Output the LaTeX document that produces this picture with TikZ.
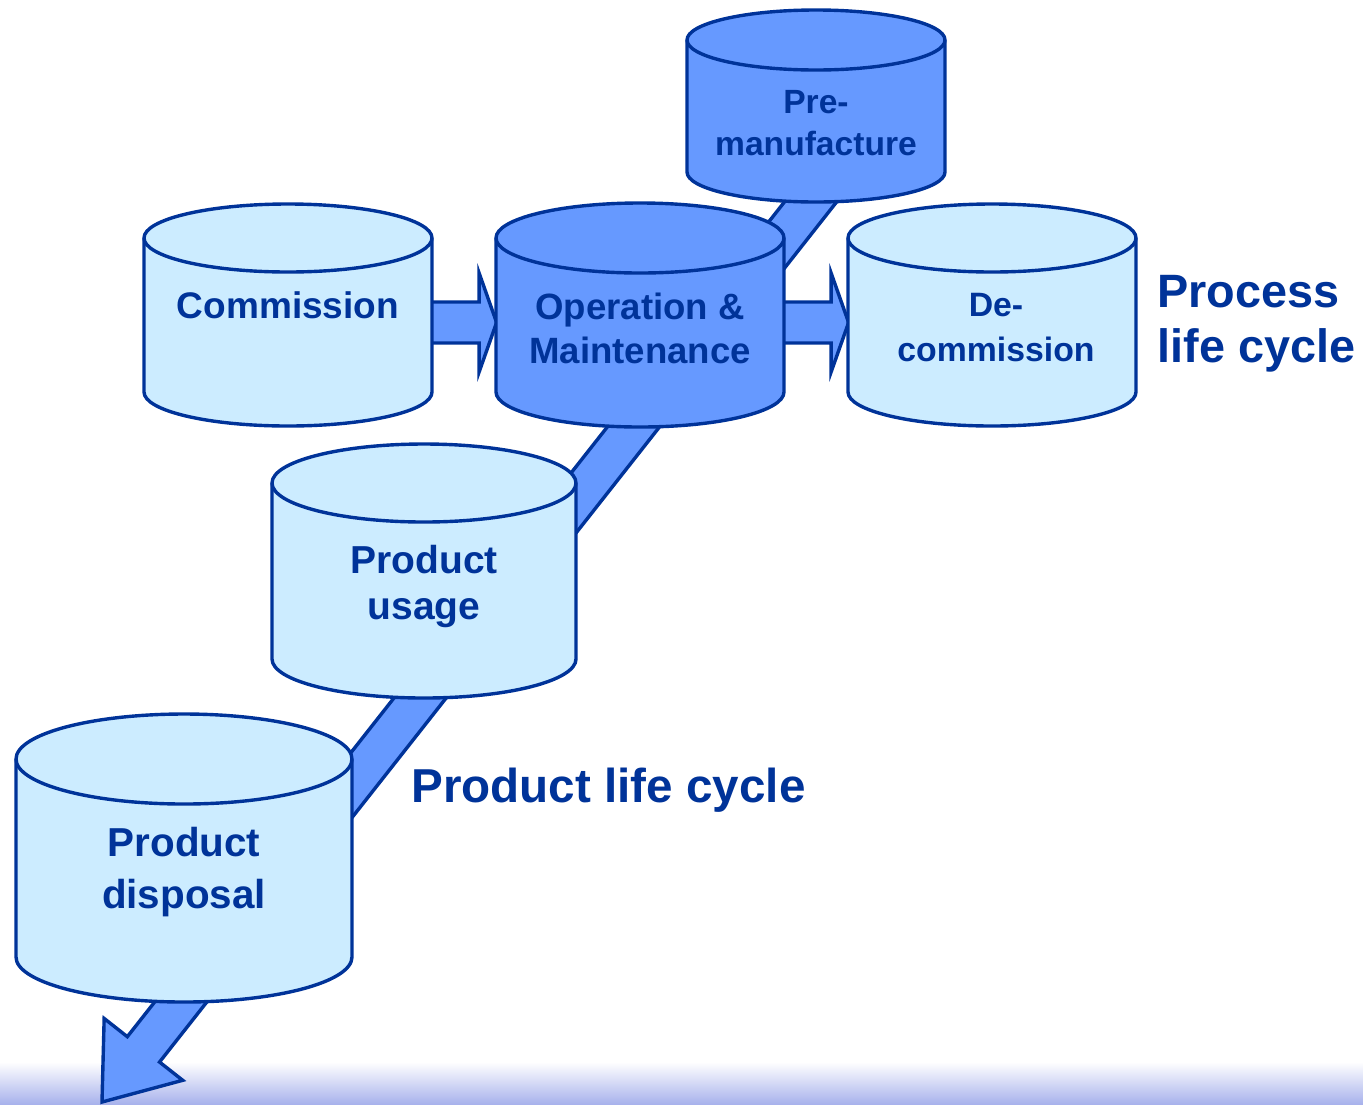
\documentclass[tikz,border=0pt]{standalone}
\usepackage{fontspec}
\setmainfont{Liberation Sans}
\usetikzlibrary{calc, positioning, backgrounds}

\definecolor{lineBlue}{HTML}{003399}
\definecolor{lightFill}{HTML}{CCECFF}
\definecolor{darkFill}{HTML}{6699FF}

\newcommand{\fs}[2]{\fontsize{#1}{#2}\selectfont\bfseries}

% Cylinder: name, centre x, top ellipse y, half width, height, y radius, fill
\newcommand{\drum}[7]{%
  \filldraw[drum, fill=#7] (#2-#4,-#3) -- ++(0,-#5)
    arc[start angle=180, end angle=360, x radius=#4, y radius=#6]
    -- ++(0,#5)
    arc[start angle=0, end angle=180, x radius=#4, y radius=#6] -- cycle;
  \draw[drum] (#2-#4,-#3) arc[start angle=180, end angle=360, x radius=#4, y radius=#6];
  \node[body, minimum width=#4*1pt, minimum height=#5*0.5pt] (#1) at (#2,-#3-#5/2) {};
}

% Block arrow: tail, tip, shaft half width, head half width, head length
\newcommand{\blockarrow}[5]{%
  \coordinate (headBase) at ($(#2)!#5!(#1)$);
  \filldraw[flow] ($(#1)!#3!90:(#2)$)
    -- ($(headBase)!#3!-90:(#1)$)
    -- ($(headBase)!#4!-90:(#1)$)
    -- (#2)
    -- ($(headBase)!#4!90:(#1)$)
    -- ($(headBase)!#3!90:(#1)$)
    -- ($(#1)!#3!-90:(#2)$) -- cycle;
}

\tikzset{
  drum/.style={draw=lineBlue, line width=1.7pt},
  body/.style={rectangle, inner sep=0pt},
  flow/.style={fill=darkFill, draw=lineBlue, line width=1.7pt},
  lbl/.style={text=lineBlue, align=center, inner sep=0pt, anchor=north}
}

\begin{document}
\begin{tikzpicture}[x=0.5pt, y=0.5pt]
    % Page size
    \useasboundingbox (0,0) rectangle (1363,-1104);

    % Cylinders
    \drum{pre}{816}{40}{129}{132}{30}{darkFill}
    \drum{commission}{288}{238}{144}{154}{34}{lightFill}
    \drum{operation}{640}{238}{144}{154}{35}{darkFill}
    \drum{decommission}{992}{238}{144}{154}{34}{lightFill}
    \drum{usage}{424}{483}{152}{176}{39}{lightFill}
    \drum{disposal}{184}{759}{168}{198}{45}{lightFill}

    % Cylinder texts
    \node[lbl, font=\fs{16.8}{21}, below=25pt of pre.north] (preText) {Pre-\\manufacture};
    \node[lbl, font=\fs{18.5}{22}, below=27pt of commission.north] (commissionText) {Commission};
    \node[lbl, font=\fs{18.3}{22}, below=27.5pt of operation.north] (operationText) {Operation \&\\Maintenance};
    \node[lbl, font=\fs{16.9}{22.5}, below=27.5pt of decommission.north, xshift=2pt] (decommissionText) {De-\\commission};
    \node[lbl, font=\fs{19.5}{23}, below=31pt of usage.north] (usageText) {Product\\usage};
    \node[lbl, font=\fs{20.2}{26}, below=34pt of disposal.north] (disposalText) {Product\\disposal};

    % Life cycle captions
    \node[lbl, font=\fs{23.4}{27.5}, align=left, anchor=north west] (processCycle) at (1157,-275) {Process\\life cycle};
    \node[lbl, font=\fs{23.8}{28}, anchor=north west] (productCycle) at (411,-768) {Product life cycle};

    \begin{scope}[on background layer]
        % White paper and shaded strip along the bottom
        \fill[white] (0,0) rectangle (1363,-1104);
        \shade[top color=white, bottom color={rgb,255:red,168;green,178;blue,236}]
            (0,-1062) rectangle (1363,-1104);

        % Product life cycle arrow
        \coordinate (plcStart) at ($(pre)+(59,-14)$);
        \coordinate (plcEnd) at (102,-1102);
        \blockarrow{plcStart}{plcEnd}{10.25pt}{25pt}{33.5pt}

        % Process life cycle arrows
        \coordinate (commissionOut) at ([xshift=-5pt, yshift=-3.75pt]commission.east);
        \coordinate (operationIn) at ([xshift=0.5pt, yshift=-3.75pt]operation.west);
        \coordinate (operationOut) at ([xshift=-5pt, yshift=-3.75pt]operation.east);
        \coordinate (decommissionIn) at ([xshift=0.5pt, yshift=-3.75pt]decommission.west);
        \blockarrow{commissionOut}{operationIn}{10.25pt}{24.75pt}{8.75pt}
        \blockarrow{operationOut}{decommissionIn}{10.25pt}{24.75pt}{8.75pt}
    \end{scope}
\end{tikzpicture}
\end{document}
